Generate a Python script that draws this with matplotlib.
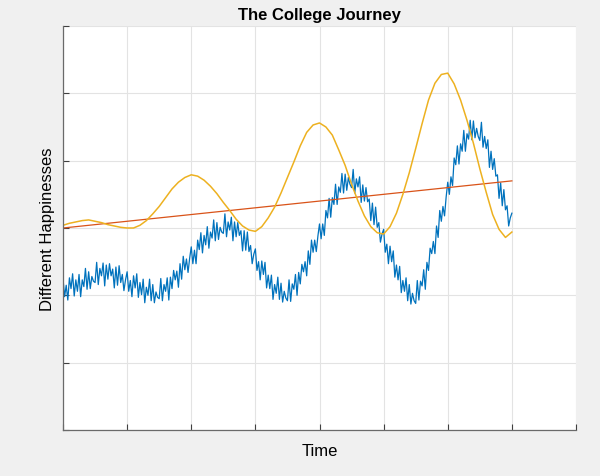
import numpy as np
import matplotlib
matplotlib.use("Agg")
import matplotlib.pyplot as plt

# Values (x in tick units 0..7, y in tick units 0..6)
blue_step = 0.025
blue_vals = [
    2.25, 1.98, 2.15, 1.93, 2.26, 2.10, 2.32, 1.99, 2.23, 2.06, 2.31, 1.98, 2.23, 2.13, 2.40, 2.09, 2.35, 2.10, 2.28, 2.21,
    2.19, 2.49, 2.16, 2.40, 2.29, 2.48, 2.14, 2.45, 2.24, 2.47, 2.29, 2.39, 2.11, 2.42, 2.15, 2.44, 2.19, 2.31, 2.07, 2.23,
    2.35, 2.06, 2.22, 1.98, 2.29, 2.11, 2.32, 1.97, 2.19, 2.01, 2.24, 1.89, 2.12, 2.00, 2.24, 1.92, 2.16, 1.89, 2.05, 1.97,
    1.95, 2.25, 1.92, 2.16, 2.06, 2.26, 1.93, 2.27, 2.10, 2.37, 2.23, 2.36, 2.12, 2.47, 2.24, 2.58, 2.38, 2.54, 2.34, 2.55,
    2.72, 2.47, 2.67, 2.47, 2.82, 2.68, 2.93, 2.63, 2.89, 2.75, 3.02, 2.70, 2.94, 2.85, 3.12, 2.81, 3.08, 2.83, 3.01, 2.94,
    2.92, 3.21, 2.87, 3.09, 2.97, 3.16, 2.81, 3.09, 2.87, 3.08, 2.89, 2.96, 2.66, 2.96, 2.67, 2.94, 2.65, 2.74, 2.47, 2.61,
    2.69, 2.37, 2.50, 2.23, 2.51, 2.31, 2.49, 2.11, 2.30, 2.10, 2.30, 1.94, 2.16, 2.03, 2.27, 1.94, 2.18, 1.90, 2.06, 1.96,
    1.92, 2.23, 1.91, 2.17, 2.09, 2.31, 2.00, 2.34, 2.17, 2.46, 2.35, 2.50, 2.29, 2.66, 2.46, 2.82, 2.64, 2.82, 2.65, 2.88,
    3.06, 2.84, 3.06, 2.89, 3.26, 3.15, 3.44, 3.16, 3.45, 3.35, 3.65, 3.35, 3.61, 3.53, 3.81, 3.52, 3.80, 3.56, 3.75, 3.65,
    3.60, 3.87, 3.52, 3.73, 3.61, 3.76, 3.38, 3.64, 3.40, 3.60, 3.39, 3.43, 3.11, 3.37, 3.05, 3.31, 3.01, 3.08, 2.79, 2.91,
    2.98, 2.64, 2.76, 2.47, 2.73, 2.50, 2.66, 2.27, 2.45, 2.23, 2.43, 2.04, 2.22, 2.06, 2.26, 1.92, 2.16, 1.87, 2.03, 1.92,
    1.88, 2.22, 1.93, 2.21, 2.14, 2.38, 2.09, 2.49, 2.37, 2.70, 2.62, 2.80, 2.62, 3.03, 2.86, 3.26, 3.10, 3.32, 3.18, 3.46,
    3.68, 3.50, 3.76, 3.63, 4.04, 3.94, 4.22, 3.95, 4.25, 4.14, 4.45, 4.14, 4.40, 4.32, 4.60, 4.31, 4.59, 4.34, 4.48, 4.36,
    4.30, 4.57, 4.20, 4.36, 4.18, 4.31, 3.90, 4.14, 3.87, 4.03, 3.77, 3.79, 3.44, 3.67, 3.33, 3.57, 3.27, 3.33, 3.03, 3.15,
    3.22,
]

orange_step = 0.1
orange_vals = [
    3.04, 3.07, 3.09, 3.11, 3.12, 3.10, 3.08, 3.05, 3.03, 3.01,
    3.00, 3.00, 3.04, 3.11, 3.21, 3.32, 3.45, 3.58, 3.68, 3.75,
    3.79, 3.77, 3.71, 3.62, 3.51, 3.38, 3.26, 3.13, 3.03, 2.97,
    2.95, 3.02, 3.15, 3.31, 3.52, 3.75, 3.98, 4.22, 4.42, 4.53,
    4.56, 4.50, 4.38, 4.16, 3.93, 3.65, 3.40, 3.18, 3.02, 2.93,
    2.91, 3.02, 3.22, 3.50, 3.82, 4.18, 4.55, 4.90, 5.15, 5.28,
    5.30, 5.14, 4.90, 4.60, 4.26, 3.88, 3.53, 3.20, 2.98, 2.86,
    2.94,
]

trend_x = [0, 7]
trend_vals = [3.0, 3.7]

title = "The College Journey"
xlabel = "Time"
ylabel = "Different Happinesses"

plt.rcParams['font.family'] = ['Liberation Sans', 'DejaVu Sans']

t_blue = np.arange(len(blue_vals)) * blue_step
t_orange = np.arange(len(orange_vals)) * orange_step

fig = plt.figure(figsize=(6.0, 4.77), dpi=100, facecolor='#f0f0f0')
ax = fig.add_axes([63 / 600, 1 - 431 / 477, 513 / 600, 404 / 477])
ax.set_facecolor('white')

ax.plot(t_blue, blue_vals, color='#0072BD', lw=0.9)
ax.plot(trend_x, trend_vals, color='#D95319', lw=0.9)
ax.plot(t_orange, orange_vals, color='#EDB120', lw=1.1)

ax.set_xlim(0, 8)
ax.set_ylim(0, 6)
ax.set_xticks(range(0, 9))
ax.set_yticks(range(0, 7))
ax.set_xticklabels([])
ax.set_yticklabels([])
ax.tick_params(direction='in', length=4.5, width=0.8, color='#404040')
ax.grid(True, color='#e3e3e3', lw=0.8)
ax.set_axisbelow(True)

for side in ['top', 'right']:
    ax.spines[side].set_visible(False)
for side in ['left', 'bottom']:
    ax.spines[side].set_color('#6a6a6a')
    ax.spines[side].set_linewidth(0.9)

ax.set_title(title, fontsize=12, fontweight='bold', pad=5)
ax.set_xlabel(xlabel, fontsize=12, labelpad=6)
ax.set_ylabel(ylabel, fontsize=12, labelpad=2)

fig.savefig("out.png", dpi=100, facecolor=fig.get_facecolor())
